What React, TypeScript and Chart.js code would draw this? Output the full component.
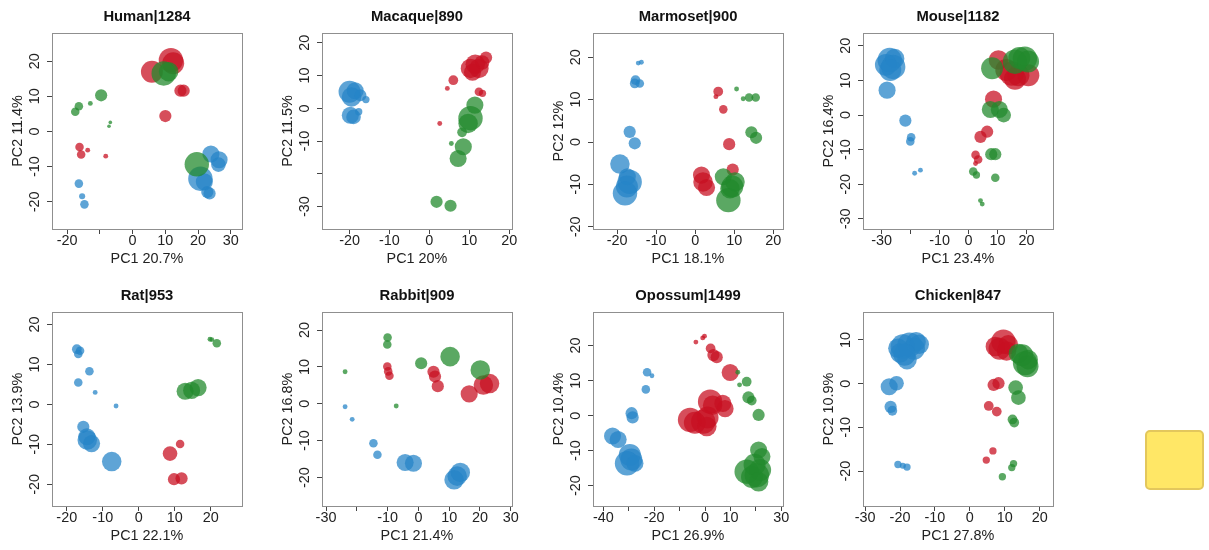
import React, { useEffect, useRef } from 'react';
import { Chart, registerables } from 'chart.js';
Chart.register(...registerables);

// ---------- DATA: each point is [PC1, PC2, weight] ----------
const humanBlue = [[23.9,-6.4,7],[26.4,-8,7],[26.2,-9.4,6],[20.7,-13.4,10],[21.9,-14.3,7],[23.5,-17.6,5],[22.8,-17.2,5],[-16.4,-14.8,3.5],[-15.4,-18.4,2.5],[-14.7,-20.7,3.5]];
const humanRed = [[11.7,20.3,10],[12.4,19.4,9],[5.9,17,9],[14.6,11.6,5],[15.6,11.6,5],[10,4.4,5],[-16.2,-4.4,3.5],[-15.7,-6.5,3.5],[-13.7,-5.3,2],[-8.2,-7,2]];
const humanGreen = [[9.5,16.5,10],[11,17,8],[-9.6,10.3,5],[-16.4,7.2,3.5],[-17.5,5.6,3.5],[-12.9,8,2],[-6.8,2.6,1.5],[-7.2,1.5,1.5],[19.6,-9.3,10]];

const macaqueBlue = [[-20,5.1,9],[-18.6,5.4,7],[-17.3,4,5],[-15.9,2.7,3],[-19.8,-2.1,7],[-19,-2.6,6],[-17.7,-1,3],[-19.5,3.5,8]];
const macaqueRed = [[14.2,15.5,5],[13.2,14,6],[10.3,12.2,8],[12.4,12.2,8],[11.5,13.5,8],[10.8,11,7],[6,8.6,4],[4.5,6.1,2],[12.4,5.1,3.5],[13.3,4.6,3],[2.6,-4.6,2]];
const macaqueGreen = [[11.4,1,7],[10.3,-3,10],[9.7,-4.6,8],[8.2,-7.3,4],[5.5,-10.7,2],[8.5,-11.7,7],[7.2,-15.3,7],[1.8,-28.5,5],[5.3,-29.7,5]];

const marmosetBlue = [[-14.6,18.6,2],[-13.8,18.8,2],[-15.3,14.6,4],[-15.5,13.8,4],[-14.2,13.8,3.5],[-16.8,2.4,5],[-15.5,-0.3,5],[-19.3,-5.2,8],[-17.4,-8.2,7],[-16.8,-9.4,10],[-17.5,-10.5,9],[-18,-12.1,10]];
const marmosetRed = [[5.9,11.9,4],[5.3,10.7,2],[7.2,7.7,3.5],[8.7,-0.5,5],[1.6,-7.8,7],[2,-9.4,8],[2.9,-10.7,7],[9.6,-6.5,5]];
const marmosetGreen = [[10.6,12.5,2],[12.3,10.2,2],[13.8,10.5,3.5],[15.5,10.5,3.5],[14.4,2.3,5],[15.6,1,5],[7.2,-8.2,7],[10.2,-9.4,8],[9.5,-10.5,9],[8.9,-11,8],[8.5,-13.7,10]];

const mouseBlue = [[-27.2,15.9,10],[-26,13.9,10],[-25.5,16.3,8],[-28.5,14.5,9],[-27,13,9],[-28.1,7.2,7],[-21.8,-1.6,5],[-19.8,-6.4,3.5],[-20.1,-7.6,3.5],[-18.6,-16.8,2],[-16.6,-15.9,2]];
const mouseRed = [[10.3,15.9,8],[14.9,12,10],[13,13,9],[16,10.5,9],[17.2,11.5,9],[20.6,11.5,9],[8.6,4.6,7],[6.4,-4.8,5],[4.1,-6.3,5],[2.4,-11.5,3.5],[3.3,-12.8,3.5],[2.4,-14,2]];
const mouseGreen = [[8.1,13.5,9],[19.4,16.3,10],[16,15.4,10],[17.5,16.5,9],[20.5,15.5,9],[7.5,1.6,7],[10.6,1.6,7],[12.1,0,6],[7.8,-11.3,5],[9.2,-11.3,5],[1.6,-16.3,3.5],[2.7,-17.3,3],[9.2,-18.1,3.5],[4.1,-24.7,2],[4.7,-25.7,2]];

const ratBlue = [[-17.2,13.8,4],[-16.3,13.4,3.5],[-16.8,12.6,3.5],[-13.7,8.3,3.5],[-16.8,5.5,3.5],[-12.1,3,2],[-6.3,-0.4,2],[-15.4,-5.6,5],[-14.4,-8.1,7],[-14.3,-8.9,8],[-13.1,-9.8,7],[-7.5,-14.3,8]];
const ratRed = [[8.7,-12.3,6],[11.5,-9.9,3.5],[9.8,-18.7,5],[11.9,-18.5,5]];
const ratGreen = [[19.8,16.3,2],[20.3,16.2,2],[21.7,15.3,3.5],[12.9,3.3,7],[14.7,3.5,7],[16.5,4.2,7]];

const rabbitBlue = [[-23.8,-0.8,2],[-21.5,-4.2,2],[-14.6,-10.7,3.5],[-13.3,-13.8,3.5],[-4.3,-15.9,7],[-1.6,-16.1,7],[11.6,-20.6,8],[13.6,-18.6,8],[12.6,-19.6,8]];
const rabbitRed = [[-10.1,10.1,3.5],[-9.8,8.8,3.5],[-9.4,7.6,3.5],[4.9,8.7,5],[5.4,7.4,5],[6.3,4.8,5],[16.5,2.7,7],[21.1,5.1,8],[23.1,5.5,8]];
const rabbitGreen = [[-10,18,3.5],[-10.1,16.1,3.5],[-23.8,8.7,2],[0.9,11,5],[10.3,12.8,8],[20.1,9.2,8],[-7.2,-0.6,2]];

const opossumBlue = [[-22.8,12.4,3.5],[-20.9,11.4,2],[-23.3,7.5,3.5],[-28.9,0.7,5],[-28.5,-0.5,5],[-36.4,-5.8,7],[-34.2,-6.8,7],[-29.6,-11.2,9],[-29,-12.5,9],[-30.7,-13.6,10],[-27.6,-13.6,7]];
const opossumRed = [[-3.6,21,2],[-0.9,22.2,2],[-0.2,22.7,2],[2.2,19.2,4],[3.3,17.3,5],[4.6,16.7,5],[9.9,12.3,7],[2,4,10],[3,3,8],[7,3.5,7],[7.9,2,7],[-5.9,-1.2,10],[-4,-2,9],[1,-0.5,9],[-0.7,-1.7,10],[0.7,-3.1,8]];
const opossumGreen = [[12.9,12.4,2],[13.6,8.8,2],[16.4,9.7,4],[17.1,5.2,5],[18.4,4.3,4],[21.1,0.2,5],[21.1,-9.8,7],[22.4,-11.7,7],[16.4,-16,10],[19.5,-14,9],[18.5,-17.5,9],[20.4,-17,10],[21.7,-15.5,9],[21.1,-18.9,8]];

const chickenBlue = [[-19.2,8.5,10],[-17.3,8.9,10],[-15.4,9.6,8],[-16,8,9],[-14.5,9,8],[-20.6,8.1,8],[-20,7,8],[-18,5.5,8],[-18.7,6.6,9],[-23.1,-0.7,7],[-21,0.1,6],[-22.7,-5.3,5],[-22.2,-6.2,4],[-20.6,-18.5,3],[-19.2,-18.8,2.5],[-18,-19.1,3]];
const chickenRed = [[9.6,9.6,10],[7.3,8.5,8],[8.5,8,9],[10.5,7.5,8],[11,8.9,8],[6.8,-0.3,5],[8.2,0.1,5],[5.4,-5.1,4],[7.7,-6.4,4],[6.6,-15.4,3],[4.7,-17.5,3]];
const chickenGreen = [[13.9,6.9,8],[15.8,4.7,10],[15,6.5,9],[16.5,4,9],[16.7,5.5,8],[13.1,-0.9,6],[13.9,-3.2,6],[12.2,-8.2,4],[12.7,-8.9,4],[12.5,-18.3,3],[12,-19.2,3],[9.3,-21.3,3]];

// ---------- titles and ticks ----------
const panelTitles = ['Human|1284','Macaque|890','Marmoset|900','Mouse|1182','Rat|953','Rabbit|909','Opossum|1499','Chicken|847'];
const pc1Titles = ['PC1 20.7%','PC1 20%','PC1 18.1%','PC1 23.4%','PC1 22.1%','PC1 21.4%','PC1 26.9%','PC1 27.8%'];
const pc2Titles = ['PC2 11.4%','PC2 11.5%','PC2 12%','PC2 16.4%','PC2 13.9%','PC2 16.8%','PC2 10.4%','PC2 10.9%'];

const humanXTicks = [-20,-10,0,10,20,30];   const humanXLabels = ['-20','','0','10','20','30'];
const humanYTicks = [-20,-10,0,10,20];       const humanYLabels = ['-20','-10','0','10','20'];
const macaqueXTicks = [-20,-10,0,10,20];     const macaqueXLabels = ['-20','-10','0','10','20'];
const macaqueYTicks = [-30,-20,-10,0,10,20]; const macaqueYLabels = ['-30','','-10','0','10','20'];
const marmosetXTicks = [-20,-10,0,10,20];    const marmosetXLabels = ['-20','-10','0','10','20'];
const marmosetYTicks = [-20,-10,0,10,20];    const marmosetYLabels = ['-20','-10','0','10','20'];
const mouseXTicks = [-30,-20,-10,0,10,20];   const mouseXLabels = ['-30','','-10','0','10','20'];
const mouseYTicks = [-30,-20,-10,0,10,20];   const mouseYLabels = ['-30','-20','-10','0','10','20'];
const ratXTicks = [-20,-10,0,10,20];         const ratXLabels = ['-20','-10','0','10','20'];
const ratYTicks = [-20,-10,0,10,20];         const ratYLabels = ['-20','-10','0','10','20'];
const rabbitXTicks = [-30,-20,-10,0,10,20,30]; const rabbitXLabels = ['-30','','-10','0','10','20','30'];
const rabbitYTicks = [-20,-10,0,10,20];      const rabbitYLabels = ['-20','-10','0','10','20'];
const opossumXTicks = [-40,-30,-20,-10,0,10,20,30]; const opossumXLabels = ['-40','','-20','','0','10','','30'];
const opossumYTicks = [-20,-10,0,10,20];     const opossumYLabels = ['-20','-10','0','10','20'];
const chickenXTicks = [-30,-20,-10,0,10,20]; const chickenXLabels = ['-30','-20','-10','0','10','20'];
const chickenYTicks = [-20,-10,0,10];        const chickenYLabels = ['-20','-10','0','10'];

const xRanges = [[-24.6,33.4],[-26.9,20.7],[-26.2,22.5],[-36.4,29.1],[-24.1,28.7],[-31.3,30.4],[-44.1,30.7],[-30.6,23.8]];
const yRanges = [[-27.7,28.0],[-36.8,23],[-20.5,25.7],[-32.9,23.7],[-25.4,23.1],[-27.7,24.9],[-25.8,29.6],[-28,16.4]];

const BLUE = 'rgba(38,132,200,0.74)';
const RED = 'rgba(200,16,34,0.74)';
const GREEN = 'rgba(34,138,44,0.74)';
const FONT = "'Liberation Sans', Arial, Helvetica, sans-serif";
const RADIUS_SCALE = 1.22;

const framePlugin = {
  id: 'frame',
  afterDraw(chart: any) {
    const { ctx, chartArea: a } = chart;
    ctx.save();
    ctx.strokeStyle = '#8f8f8f';
    ctx.lineWidth = 1;
    ctx.strokeRect(Math.round(a.left) + 0.5, Math.round(a.top) + 0.5, Math.round(a.right - a.left), Math.round(a.bottom - a.top));
    ctx.restore();
  },
};

type PanelProps = {
  idx: number; left: number; top: number; boxH: number;
  xTicks: number[]; xLabels: string[]; yTicks: number[]; yLabels: string[];
  blue: number[][]; red: number[][]; green: number[][];
};

function Panel(p: PanelProps) {
  const ref = useRef<HTMLCanvasElement>(null);
  const H = 33 + p.boxH + 41;
  useEffect(() => {
    const toPts = (a: number[][]) => a.map(([x, y, w]) => ({ x, y, r: w * RADIUS_SCALE }));
    const tickFont = { family: FONT, size: 14.4, lineHeight: 1.2 };
    const chart = new Chart(ref.current as HTMLCanvasElement, {
      type: 'bubble',
      data: {
        datasets: [
          { label: 'green', data: toPts(p.green), backgroundColor: GREEN, borderWidth: 0 },
          { label: 'red', data: toPts(p.red), backgroundColor: RED, borderWidth: 0 },
          { label: 'blue', data: toPts(p.blue), backgroundColor: BLUE, borderWidth: 0 },
        ],
      },
      options: {
        animation: false,
        responsive: false,
        events: [],
        layout: { padding: { left: 0, right: 28, top: 0, bottom: 0 } },
        plugins: {
          legend: { display: false },
          tooltip: { enabled: false },
          title: {
            display: true, text: panelTitles[p.idx], fullSize: false, color: '#111',
            font: { family: FONT, size: 14.8, weight: 'bold', lineHeight: 1.2 },
            padding: { top: 8, bottom: 7.24 },
          },
        },
        scales: {
          x: {
            type: 'linear', position: 'bottom',
            min: xRanges[p.idx][0], max: xRanges[p.idx][1],
            afterBuildTicks: (s: any) => { s.ticks = p.xTicks.map((v) => ({ value: v })); },
            afterFit: (s: any) => { s.height = 41; },
            ticks: { callback: (_v: any, i: number) => p.xLabels[i], color: '#222', font: tickFont, padding: -1.9, maxRotation: 0, minRotation: 0, autoSkip: false },
            grid: { drawOnChartArea: false, drawTicks: true, tickLength: 5, tickColor: '#444', tickWidth: 1 },
            border: { display: false },
            title: { display: true, text: pc1Titles[p.idx], color: '#222', font: tickFont, padding: { top: 0, bottom: 2.4 } },
          },
          y: {
            type: 'linear', position: 'left',
            min: yRanges[p.idx][0], max: yRanges[p.idx][1],
            afterBuildTicks: (s: any) => { s.ticks = p.yTicks.map((v) => ({ value: v })); },
            afterFit: (s: any) => { s.width = 52; },
            ticks: { callback: (_v: any, i: number) => p.yLabels[i], color: '#222', font: tickFont, padding: 1.6, minRotation: 90, maxRotation: 90, crossAlign: 'center', autoSkip: false },
            grid: { drawOnChartArea: false, drawTicks: true, tickLength: 5, tickColor: '#444', tickWidth: 1 },
            border: { display: false },
            title: { display: true, text: pc2Titles[p.idx], color: '#222', font: tickFont, padding: { top: 9.4, bottom: 0 } },
          },
        },
      } as any,
      plugins: [framePlugin],
    });
    return () => chart.destroy();
  }, []);
  return (
    <canvas
      ref={ref}
      width={270}
      height={H}
      style={{ position: 'absolute', left: p.left, top: p.top, width: 270, height: H }}
    />
  );
}

export default function App() {
  const lefts = [0, 270, 541, 811];
  return (
    <div style={{ position: 'absolute', left: 0, top: 0, width: 1209, height: 550, background: '#fff', overflow: 'hidden' }}>
      <Panel idx={0} left={lefts[0]} top={0} boxH={196} xTicks={humanXTicks} xLabels={humanXLabels} yTicks={humanYTicks} yLabels={humanYLabels} blue={humanBlue} red={humanRed} green={humanGreen} />
      <Panel idx={1} left={lefts[1]} top={0} boxH={196} xTicks={macaqueXTicks} xLabels={macaqueXLabels} yTicks={macaqueYTicks} yLabels={macaqueYLabels} blue={macaqueBlue} red={macaqueRed} green={macaqueGreen} />
      <Panel idx={2} left={lefts[2]} top={0} boxH={196} xTicks={marmosetXTicks} xLabels={marmosetXLabels} yTicks={marmosetYTicks} yLabels={marmosetYLabels} blue={marmosetBlue} red={marmosetRed} green={marmosetGreen} />
      <Panel idx={3} left={lefts[3]} top={0} boxH={196} xTicks={mouseXTicks} xLabels={mouseXLabels} yTicks={mouseYTicks} yLabels={mouseYLabels} blue={mouseBlue} red={mouseRed} green={mouseGreen} />
      <Panel idx={4} left={lefts[0]} top={279} boxH={194} xTicks={ratXTicks} xLabels={ratXLabels} yTicks={ratYTicks} yLabels={ratYLabels} blue={ratBlue} red={ratRed} green={ratGreen} />
      <Panel idx={5} left={lefts[1]} top={279} boxH={194} xTicks={rabbitXTicks} xLabels={rabbitXLabels} yTicks={rabbitYTicks} yLabels={rabbitYLabels} blue={rabbitBlue} red={rabbitRed} green={rabbitGreen} />
      <Panel idx={6} left={lefts[2]} top={279} boxH={194} xTicks={opossumXTicks} xLabels={opossumXLabels} yTicks={opossumYTicks} yLabels={opossumYLabels} blue={opossumBlue} red={opossumRed} green={opossumGreen} />
      <Panel idx={7} left={lefts[3]} top={279} boxH={194} xTicks={chickenXTicks} xLabels={chickenXLabels} yTicks={chickenYTicks} yLabels={chickenYLabels} blue={chickenBlue} red={chickenRed} green={chickenGreen} />
      <div style={{ position: 'absolute', left: 1145, top: 430, width: 55, height: 56, background: '#FFE766', border: '2px solid #E3C75C', borderRadius: 5 }} />
    </div>
  );
}
